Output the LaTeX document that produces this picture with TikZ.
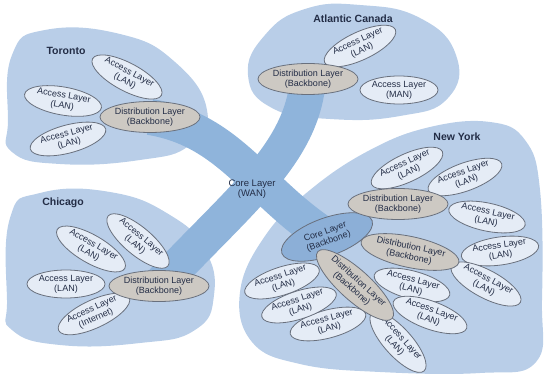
\documentclass[tikz,border=0pt]{standalone}
\usepackage{fontspec}
\setmainfont{Liberation Sans}
\usepackage{tikz}
\usetikzlibrary{shapes.geometric}
\definecolor{blobblue}{RGB}{185,206,232}
\definecolor{bandblue}{RGB}{143,180,219}
\definecolor{accessfill}{RGB}{229,236,246}
\definecolor{distfill}{RGB}{205,201,195}
\definecolor{corefill}{RGB}{140,175,215}
\definecolor{edgegray}{RGB}{105,112,125}
\definecolor{textnavy}{RGB}{35,45,70}
\newcommand{\newLayer}[4]{\node[#3](#1) at (#4) {#2};}
\newcommand{\newBand}[3]{\draw[band] (#1.center) .. controls #3 .. (#2.center);}
\pgfdeclarelayer{blobs}
\pgfdeclarelayer{bands}
\pgfsetlayers{blobs,bands,main}

\begin{document}
\begin{tikzpicture}[
    % one unit is one pixel of the picture, y downwards
    x=1pt,y=-1pt,
    % ellipses of the layers
    layer/.style={ellipse,draw=edgegray,line width=0.8pt,align=center,
      inner sep=0pt,text=textnavy,font=\fontsize{9}{10}\selectfont},
    access/.style={layer,fill=accessfill,minimum width=78pt,minimum height=28pt},
    dist/.style={layer,fill=distfill,minimum width=100pt,minimum height=31pt},
    core/.style={layer,fill=corefill,minimum width=96pt,minimum height=38pt},
    % site names and the WAN
    site/.style={font=\fontsize{10.5}{12}\selectfont\bfseries,text=textnavy},
    wan/.style={align=center,text=textnavy,font=\fontsize{9.5}{10.5}\selectfont},
    band/.style={draw=bandblue,line width=36pt},
    blob/.style={fill=blobblue}
    ]
    \useasboundingbox (0,0) rectangle (544,374);

    % Toronto
    \newLayer{tor}{Toronto}{site}{66,51}
    \newLayer{ta1}{Access Layer\\(LAN)}{access,rotate=-28}{127,77}
    \newLayer{ta2}{Access Layer\\(LAN)}{access,rotate=-10}{63,101}
    \newLayer{ta3}{Access Layer\\(LAN)}{access,rotate=15}{68,139}
    \newLayer{tdist}{Distribution Layer\\(Backbone)}{dist}{150,117}

    % Atlantic Canada
    \newLayer{atl}{Atlantic Canada}{site}{353,19}
    \newLayer{aa1}{Access Layer\\(LAN)}{access,rotate=25}{360,46}
    \newLayer{aa2}{Access Layer\\(MAN)}{access}{399,90}
    \newLayer{adist}{Distribution Layer\\(Backbone)}{dist}{308,79}

    % Chicago
    \newLayer{chi}{Chicago}{site}{63,203}
    \newLayer{ca1}{Access Layer\\(LAN)}{access,rotate=-40}{138,241}
    \newLayer{ca2}{Access Layer\\(LAN)}{access,rotate=-30}{91,249}
    \newLayer{ca3}{Access Layer\\(LAN)}{access}{66,284}
    \newLayer{ca4}{Access Layer\\(Internet)}{access,rotate=25}{94,314}
    \newLayer{cdist}{Distribution Layer\\(Backbone)}{dist}{159,286}

    % New York
    \newLayer{ny}{New York}{site}{457,137}
    \newLayer{na1}{Access Layer\\(LAN)}{access,rotate=25}{407,168}
    \newLayer{na2}{Access Layer\\(LAN)}{access,rotate=20}{465,177}
    \newLayer{na3}{Access Layer\\(LAN)}{access,rotate=-12}{487,217}
    \newLayer{na4}{Access Layer\\(LAN)}{access,rotate=8}{500,251}
    \newLayer{na5}{Access Layer\\(LAN)}{access,rotate=-28}{486,284}
    \newLayer{na6}{Access Layer\\(LAN)}{access,rotate=-15}{412,285}
    \newLayer{na7}{Access Layer\\(LAN)}{access,rotate=-20}{430,315}
    \newLayer{na8}{Access Layer\\(LAN)}{access,rotate=-48}{398,342}
    \newLayer{na9}{Access Layer\\(LAN)}{access,rotate=15}{328,324}
    \newLayer{na10}{Access Layer\\(LAN)}{access,rotate=18}{299,305}
    \newLayer{na11}{Access Layer\\(LAN)}{access,rotate=18}{282,281}
    \newLayer{nycore}{Core Layer\\(Backbone)}{core,rotate=20}{327,237}
    \newLayer{nd1}{Distribution Layer\\(Backbone)}{dist}{398,204}
    \newLayer{nd2}{Distribution Layer\\(Backbone)}{dist,rotate=-12}{410,252}
    \newLayer{nd3}{Distribution Layer\\(Backbone)}{dist,rotate=-42}{355,285}

    \newLayer{wan}{Core Layer\\(WAN)}{wan}{252,189}

    \begin{pgfonlayer}{bands}
      \newBand{tdist}{nycore}{+(80,13) and +(-70,-45)}
      \newBand{adist}{cdist}{+(-6,75) and +(80,-86)}
    \end{pgfonlayer}

    \begin{pgfonlayer}{blobs}
      \fill[blob] plot[smooth cycle,tension=0.8] coordinates
        {(8,120) (12,55) (45,30) (120,34) (175,62) (207,110) (190,145) (140,160) (60,164) (12,152)};
      \fill[blob] plot[smooth cycle,tension=0.8] coordinates
        {(248,75) (265,35) (305,9) (360,5) (420,18) (456,55) (448,98) (400,116) (330,119) (272,108)};
      \fill[blob] plot[smooth cycle,tension=0.8] coordinates
        {(7,300) (10,218) (40,193) (110,192) (170,215) (205,250) (214,295) (195,330) (140,343) (60,345) (12,330)};
      \fill[blob] plot[smooth cycle,tension=0.7] coordinates
        {(240,292) (265,236) (310,190) (370,150) (430,127) (490,122) (525,140) (540,190) (542,300) (536,362) (480,373) (380,372) (300,364) (252,342)};
    \end{pgfonlayer}
  \end{tikzpicture}
\end{document}
